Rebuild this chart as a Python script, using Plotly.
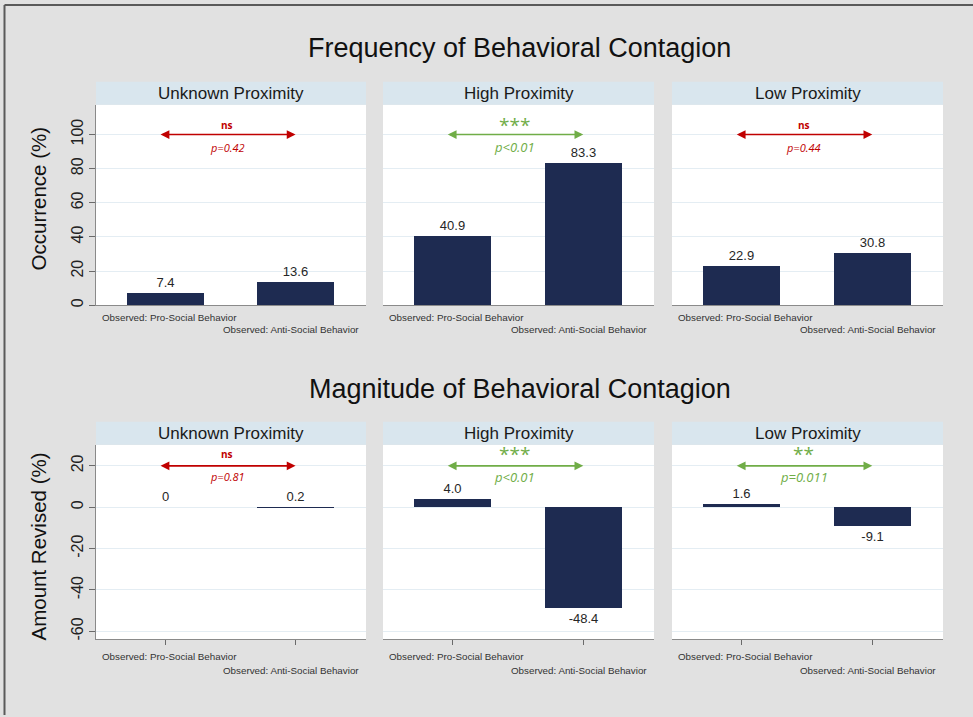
import plotly.graph_objects as go
from plotly.subplots import make_subplots

# ---------------- data ----------------
panels = ["Unknown Proximity", "High Proximity", "Low Proximity"]
categories = ["Observed: Pro-Social Behavior", "Observed: Anti-Social Behavior"]
freq_pro = [7.4, 40.9, 22.9]
freq_anti = [13.6, 83.3, 30.8]
mag_pro = [0, 4.0, 1.6]
mag_anti = [0.2, -48.4, -9.1]
freq_sig = ["ns", "***", "ns"]
freq_p = ["p=0.42", "p<0.01", "p=0.44"]
mag_sig = ["ns", "***", "**"]
mag_p = ["p=0.81", "p<0.01", "p=0.011"]
freq_ticks = [0, 20, 40, 60, 80, 100]
mag_ticks = [-60, -40, -20, 0, 20]
titles = ["Frequency of Behavioral Contagion", "Magnitude of Behavioral Contagion"]
ytitles = ["Occurrence (%)", "Amount Revised (%)"]

# ---------------- style ----------------
W, H = 973, 717
FONT = "Liberation Sans, Arial, sans-serif"
BG = "#e1e1e1"
STRIP = "#d9e6ee"
GRID = "#e4edf3"
BAR = "#1e2b51"
RED = "#c00000"
GREEN = "#70ad47"

col_px = [(96, 366), (383, 654), (672, 943)]
row_px = [(105, 306), (446, 641)]
strip_px = [(82, 105), (423, 446)]
yranges = [[0, 117.5], [-63.8, 30.2]]
xrange_ = [-0.535, 1.542]

def fx(p):
    return p / W

def fy(p):
    return 1 - p / H

fig = make_subplots(rows=2, cols=3)

def fmt(v):
    return "0" if v == 0 else f"{v:.1f}"

datasets = [(freq_pro, freq_anti), (mag_pro, mag_anti)]
sigs = [(freq_sig, freq_p), (mag_sig, mag_p)]
arrow_y = [100, 20]
sig_y = [105.8, 25.5]
p_y = [92.6, 14.8]

annotations = []
shapes = []

for r in range(2):
    pro, anti = datasets[r]
    for c in range(3):
        idx = r * 3 + c + 1
        vals = [pro[c], anti[c]]
        fig.add_trace(
            go.Bar(
                x=[0, 1], y=vals, width=0.592,
                marker=dict(color=BAR, line=dict(width=0)),
                text=[fmt(v) for v in vals], textposition="outside",
                textfont=dict(family=FONT, size=13, color="#262626"),
                cliponaxis=False, showlegend=False, hoverinfo="skip",
            ),
            row=r + 1, col=c + 1,
        )
        xa = "xaxis" if idx == 1 else f"xaxis{idx}"
        ya = "yaxis" if idx == 1 else f"yaxis{idx}"
        xref = "x" if idx == 1 else f"x{idx}"
        yref = "y" if idx == 1 else f"y{idx}"
        fig.layout[xa].update(
            domain=[fx(col_px[c][0]), fx(col_px[c][1])],
            range=xrange_, showgrid=False, zeroline=False,
            showline=True, linecolor="#8a8a8a", linewidth=1,
            tickvals=[0, 1], showticklabels=False,
            ticks="outside" if r == 1 else "", ticklen=5, tickcolor="#6a6a6a",
            fixedrange=True,
        )
        ticks = freq_ticks if r == 0 else mag_ticks
        fig.layout[ya].update(
            domain=[fy(row_px[r][1]), fy(row_px[r][0])],
            range=yranges[r], tickvals=ticks, ticktext=[str(t) for t in ticks],
            showgrid=True, gridcolor=GRID, gridwidth=1, zeroline=False,
            showline=(c == 0), linecolor="#8a8a8a", linewidth=1,
            ticks="outside" if c == 0 else "", ticklen=6, tickcolor="#6a6a6a",
            showticklabels=(c == 0), tickangle=-90,
            tickfont=dict(family=FONT, size=16, color="#222"),
            fixedrange=True,
        )
        # header strip
        shapes.append(dict(type="rect", xref="paper", yref="paper",
                           x0=fx(col_px[c][0]), x1=fx(col_px[c][1]),
                           y0=fy(strip_px[r][1]), y1=fy(strip_px[r][0]),
                           fillcolor=STRIP, line=dict(width=0), layer="below"))
        annotations.append(dict(xref="paper", yref="paper",
                                x=fx((col_px[c][0] + col_px[c][1]) / 2),
                                y=fy((strip_px[r][0] + strip_px[r][1]) / 2),
                                text=panels[c], showarrow=False,
                                font=dict(family=FONT, size=17, color="#1a1a1a"),
                                xanchor="center", yanchor="middle"))
        # category labels
        lab_y = [(318, 330), (658, 672)][r]
        annotations.append(dict(xref="paper", yref="paper",
                                x=fx(col_px[c][0] + 4), y=fy(lab_y[0]),
                                text=categories[0], showarrow=False,
                                font=dict(family=FONT, size=9.8, color="#333"),
                                xanchor="left", yanchor="middle"))
        annotations.append(dict(xref="paper", yref="paper",
                                x=fx(col_px[c][1] - 5), y=fy(lab_y[1]),
                                text=categories[1], showarrow=False,
                                font=dict(family=FONT, size=9.8, color="#333"),
                                xanchor="right", yanchor="middle"))
        # significance arrow
        s_list, p_list = sigs[r]
        color = RED if s_list[c] == "ns" else GREEN
        annotations.append(dict(xref=xref, yref=yref, axref=xref, ayref=yref,
                                x=1.0, y=arrow_y[r], ax=-0.05, ay=arrow_y[r],
                                text="", showarrow=True, arrowside="end+start",
                                arrowhead=2, arrowsize=1.1, arrowwidth=1.6,
                                arrowcolor=color, standoff=0, startstandoff=0))
        if s_list[c] == "ns":
            s_text = f"<b>{s_list[c]}</b>"
            s_font = dict(family="Open Sans, sans-serif", size=10, color=color)
        else:
            s_text = s_list[c]
            s_font = dict(family="Open Sans, sans-serif", size=19, color=color)
        annotations.append(dict(xref=xref, yref=yref, x=0.475, y=sig_y[r],
                                text=s_text, showarrow=False, font=s_font,
                                xanchor="center", yanchor="middle"))
        p_size = 11 if s_list[c] == "ns" else 13
        annotations.append(dict(xref=xref, yref=yref, x=0.475, y=p_y[r],
                                text=f"<i>{p_list[c]}</i>", showarrow=False,
                                font=dict(family="Open Sans, sans-serif", size=p_size, color=color),
                                xanchor="center", yanchor="middle"))

# main titles and y titles
for r, (ty, yc) in enumerate([(48, 199), (390, 548)]):
    annotations.append(dict(xref="paper", yref="paper", x=fx(519.5), y=fy(ty),
                            text=titles[r], showarrow=False,
                            font=dict(family=FONT, size=27, color="#111"),
                            xanchor="center", yanchor="middle"))
    annotations.append(dict(xref="paper", yref="paper", x=fx(38), y=fy(yc),
                            text=ytitles[r], showarrow=False, textangle=-90,
                            font=dict(family=FONT, size=20.5, color="#111"),
                            xanchor="center", yanchor="middle"))

# outer frame (left and top)
shapes.append(dict(type="line", xref="paper", yref="paper",
                   x0=fx(4.5), x1=fx(4.5), y0=0, y1=fy(5),
                   line=dict(color="#5a5a5a", width=2)))
shapes.append(dict(type="line", xref="paper", yref="paper",
                   x0=fx(4.5), x1=1, y0=fy(5), y1=fy(5),
                   line=dict(color="#5a5a5a", width=2)))

fig.update_layout(
    width=W, height=H, margin=dict(l=0, r=0, t=0, b=0),
    paper_bgcolor=BG, plot_bgcolor="white",
    annotations=annotations, shapes=shapes,
    showlegend=False, bargap=0,
    font=dict(family=FONT),
)

fig.write_html("out.html", config={"displayModeBar": False},
               post_script="document.body.style.margin='0px';document.body.style.overflow='hidden';")
